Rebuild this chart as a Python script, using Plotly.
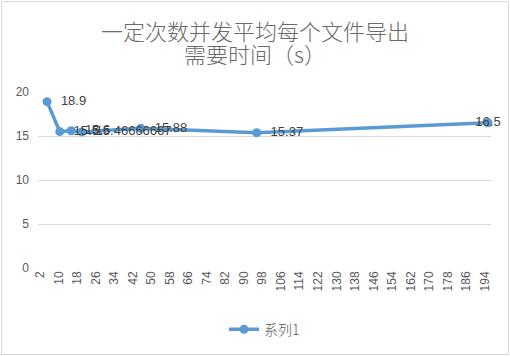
import plotly.graph_objects as go

# data
x_vals = [5, 10.5, 15.4, 20, 45.5, 95.5, 195.3]
y_vals = [18.9, 15.5, 15.6, 15.46666667, 15.88, 15.37, 16.5]
labels = ["18.9", "15.5", "15.6", "15.46666667", "15.88", "15.37", "16.5"]
tick_vals = list(range(2, 195, 8))
tick_text = [str(v) for v in tick_vals]
series_name = "系列1"
title_lines = ["一定次数并发平均每个文件导出", "需要时间（s）"]

W, H = 510, 356
L, R, T, B = 38, 19, 92, 88
pw, ph = W - L - R, H - T - B

shown = ["  " + s for s in labels[:-1]] + [labels[-1]]

fig = go.Figure()
fig.add_trace(go.Scatter(
    x=x_vals, y=y_vals, mode="lines+markers+text", name=series_name,
    text=shown,
    textposition=["middle right"] * 6 + ["middle center"],
    textfont=dict(family="Liberation Sans, Arial", size=13, color="#404040"),
    line=dict(color="#5b9bd5", width=3.5),
    marker=dict(color="#5b9bd5", size=9),
    cliponaxis=False,
))

title_centers = [30, 53]
annotations = [dict(text=t, xref="paper", yref="paper", x=(W / 2 - L) / pw,
                    y=1 + (T - yc) / ph, xanchor="center", yanchor="middle",
                    showarrow=False,
                    font=dict(family="Noto Sans CJK SC", size=22, color="#6a6a6a", weight=300))
               for t, yc in zip(title_lines, title_centers)]

fig.update_layout(
    width=W, height=H,
    margin=dict(l=L, r=R, t=T, b=B, autoexpand=False),
    paper_bgcolor="white", plot_bgcolor="white",
    annotations=annotations,
    xaxis=dict(range=[1.1, 196.6], tickmode="array", tickvals=tick_vals, ticktext=tick_text,
               tickangle=-90, showgrid=False, zeroline=False, showline=False,
               tickfont=dict(family="Liberation Sans, Arial", size=12, color="#595959"),
               ticks="", automargin=False),
    yaxis=dict(range=[0, 20], tickvals=[0, 5, 10, 15, 20], showgrid=True, gridcolor="#d9d9d9",
               gridwidth=1, zeroline=False, showline=False, ticks="",
               tickfont=dict(family="Liberation Sans, Arial", size=12, color="#595959"),
               ticklabelstandoff=8, automargin=False),
    showlegend=True,
    legend=dict(orientation="h", x=0.5, xanchor="center", y=-0.26, yanchor="top",
                font=dict(family="Noto Sans CJK SC", size=14, color="#595959", weight=300)),
    shapes=[dict(type="rect", xref="paper", yref="paper",
                 x0=-(L - 1.5) / pw, x1=1 + (R - 1.5) / pw,
                 y0=-(B - 1.5) / ph, y1=1 + (T - 1.5) / ph,
                 line=dict(color="#d9d9d9", width=1))],
)

fig.write_html("out.html", config={"displayModeBar": False},
               post_script="document.body.style.margin='0';")
